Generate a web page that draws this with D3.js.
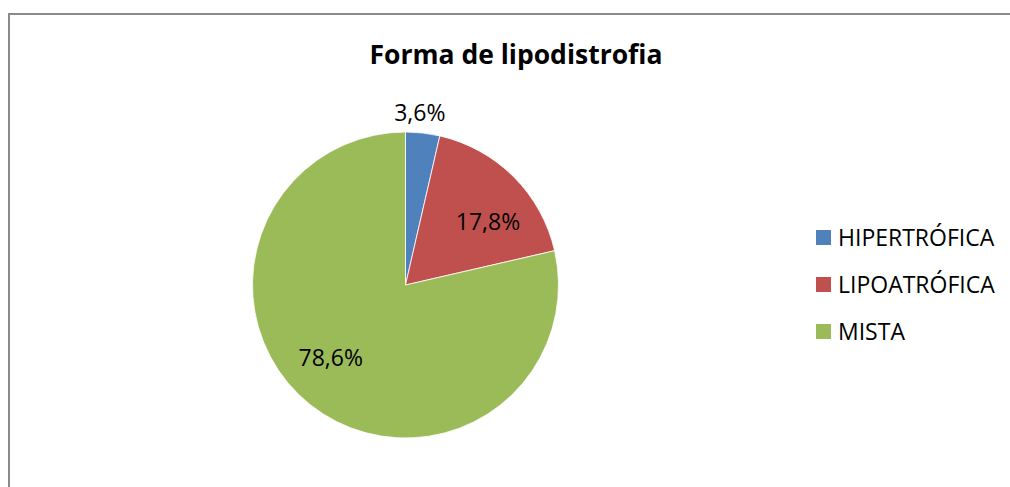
<!DOCTYPE html>
<html>
<head>
<meta charset="utf-8">
<script src="https://cdn.jsdelivr.net/npm/d3@7"></script>
<style>
  html, body { margin: 0; padding: 0; background: #fff; }
  svg { display: block; }
  text { font-family: "Open Sans", Lato, sans-serif; fill: #000; }
</style>
</head>
<body>
<svg id="chart" width="1010" height="487"></svg>
<script>
const title = "Forma de lipodistrofia";
const categories = ["HIPERTRÓFICA", "LIPOATRÓFICA", "MISTA"];
const values = [3.6, 17.8, 78.6];
const labels = ["3,6%", "17,8%", "78,6%"];
const colors = ["#4F81BD", "#C0504D", "#9BBB59"];

const svg = d3.select("#chart");

// chart area border
svg.append("rect")
  .attr("x", 9).attr("y", 14)
  .attr("width", 1100).attr("height", 600)
  .attr("fill", "#fff")
  .attr("stroke", "#8a8a8a").attr("stroke-width", 2);

// title
svg.append("text")
  .attr("x", 516).attr("y", 64)
  .attr("text-anchor", "middle")
  .style("font-size", "26.5px").style("font-weight", "bold")
  .text(title);

const cx = 405.5, cy = 285, r = 153;
const g = svg.append("g").attr("transform", `translate(${cx},${cy})`);

const pie = d3.pie().sort(null).value(d => d)(values);
const arc = d3.arc().innerRadius(0).outerRadius(r);
const inR = r * 0.68, outR = r + 20, angOffset = 0.13;

g.selectAll("path.slice").data(pie).join("path")
  .attr("class", "slice")
  .attr("d", arc)
  .attr("fill", (d, i) => colors[i])
  .attr("stroke", "#fff").attr("stroke-width", 0.8);

g.selectAll("text.lbl").data(pie).join("text")
  .attr("class", "lbl")
  .attr("transform", d => {
    const small = (d.endAngle - d.startAngle) < 0.4;
    const a = (d.startAngle + d.endAngle) / 2 + (small ? -0.03 : angOffset);
    const rr = small ? outR : inR;
    return `translate(${rr * Math.sin(a)},${-rr * Math.cos(a)})`;
  })
  .attr("text-anchor", "middle")
  .attr("dy", "0.36em")
  .style("font-size", "23px")
  .text((d, i) => labels[i]);

// legend
const lg = svg.append("g").attr("transform", "translate(816,230)");
const item = lg.selectAll("g").data(categories).join("g")
  .attr("transform", (d, i) => `translate(0,${i * 47})`);
item.append("rect").attr("width", 15).attr("height", 15)
  .attr("fill", (d, i) => colors[i]);
item.append("text").attr("x", 22).attr("y", 15.5)
  .style("font-size", "23px")
  .text(d => d);
</script>
</body>
</html>
